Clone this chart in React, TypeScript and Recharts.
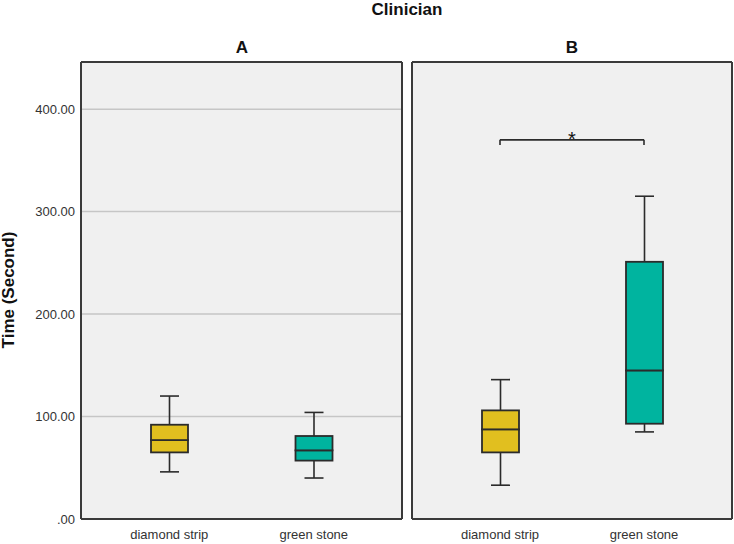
import React from "react"
import {
  ComposedChart,
  Bar,
  XAxis,
  YAxis,
  CartesianGrid,
  ReferenceLine,
} from "recharts"

// box plot summaries (seconds)
const categories = ["diamond strip", "green stone"]
const boxColors = ["#E1BF1F", "#00B49F"]

const minA = [46, 40]
const q1A = [65, 57]
const medianA = [77, 67]
const q3A = [92, 81]
const maxA = [120, 104]

const minB = [33, 85]
const q1B = [65, 93]
const medianB = [87.5, 145]
const q3B = [106, 251]
const maxB = [136, 315]

const yTicks = [0, 100, 200, 300, 400]
const yMax = 446
const bracketY = 370
const bracketDrop = 5

const font = "'Liberation Sans', Arial, sans-serif"
const frame = "#3a3a3a"
const ink = "#2b2b2b"

function buildRows(min: number[], q1: number[], med: number[], q3: number[], max: number[]) {
  return categories.map((name, i) => ({
    name,
    base: min[i],
    lowWhisker: q1[i] - min[i],
    lowBox: med[i] - q1[i],
    highBox: q3[i] - med[i],
    highWhisker: max[i] - q3[i],
  }))
}

const rowsA = buildRows(minA, q1A, medianA, q3A, maxA)
const rowsB = buildRows(minB, q1B, medianB, q3B, maxB)

const Empty = () => <g />

const LowWhisker = (p: any) => {
  const cx = p.x + p.width / 2
  const bottom = p.y + p.height
  return (
    <g stroke={ink} strokeWidth={1.6}>
      <line x1={cx} x2={cx} y1={p.y} y2={bottom} />
      <line x1={cx - 9.5} x2={cx + 9.5} y1={bottom} y2={bottom} />
    </g>
  )
}

const HighWhisker = (p: any) => {
  const cx = p.x + p.width / 2
  return (
    <g stroke={ink} strokeWidth={1.6}>
      <line x1={cx} x2={cx} y1={p.y} y2={p.y + p.height} />
      <line x1={cx - 9.5} x2={cx + 9.5} y1={p.y} y2={p.y} />
    </g>
  )
}

const BoxPart = (p: any) => (
  <rect
    x={p.x}
    y={p.y}
    width={p.width}
    height={p.height}
    fill={boxColors[p.index % boxColors.length]}
    stroke={ink}
    strokeWidth={1.8}
  />
)

const StarLabel = (props: any) => {
  const vb = props.viewBox || {}
  const cx = vb.x + (vb.width || 0) / 2
  return (
    <text x={cx} y={vb.y + 6} textAnchor="middle" fontSize={20} fontFamily={font} fill="#111">
      *
    </text>
  )
}

// frame around the plot area, taken from the chart's own offset
const edgesY = ({ offset }: any) => [offset.top, offset.top + offset.height]
const edgesX = ({ offset }: any) => [offset.left, offset.left + offset.width]

function Panel({
  rows,
  width,
  marginLeft,
  marginRight,
  showTicks,
  bracket,
}: {
  rows: any[]
  width: number
  marginLeft: number
  marginRight: number
  showTicks: boolean
  bracket?: boolean
}) {
  return (
    <ComposedChart
      width={width}
      height={544}
      data={rows}
      margin={{ top: 62, right: marginRight, bottom: 0, left: marginLeft }}
      barSize={37}
    >
      <CartesianGrid
        vertical={false}
        stroke="#C6C6C6"
        strokeWidth={1.5}
        fill="#F0F0F0"
        fillOpacity={1}
      />
      <CartesianGrid
        stroke={frame}
        strokeWidth={2}
        horizontalCoordinatesGenerator={edgesY}
        verticalCoordinatesGenerator={edgesX}
      />
      <XAxis
        dataKey="name"
        height={25}
        padding={{ left: 16, right: 16 }}
        axisLine={{ stroke: frame, strokeWidth: 2 }}
        tickLine={false}
        tickSize={0}
        tickMargin={11}
        tick={{ fontSize: 13, fill: "#333", fontFamily: font }}
        interval={0}
      />
      <YAxis
        type="number"
        domain={[0, yMax]}
        ticks={yTicks}
        allowDataOverflow
        width={showTicks ? 81 : 0}
        axisLine={{ stroke: frame, strokeWidth: 2 }}
        tickLine={false}
        tickSize={0}
        tickMargin={6}
        tick={showTicks ? { fontSize: 13, fill: "#333", fontFamily: font } : false}
        tickFormatter={(v: number) => (v === 0 ? ".00" : v.toFixed(2))}
      />
      <Bar dataKey="base" stackId="box" shape={<Empty />} isAnimationActive={false} />
      <Bar dataKey="lowWhisker" stackId="box" shape={<LowWhisker />} isAnimationActive={false} />
      <Bar dataKey="lowBox" stackId="box" shape={<BoxPart />} isAnimationActive={false} />
      <Bar dataKey="highBox" stackId="box" shape={<BoxPart />} isAnimationActive={false} />
      <Bar dataKey="highWhisker" stackId="box" shape={<HighWhisker />} isAnimationActive={false} />
      {bracket && (
        <ReferenceLine
          segment={[
            { x: categories[0], y: bracketY },
            { x: categories[1], y: bracketY },
          ]}
          stroke={ink}
          strokeWidth={1.6}
          label={<StarLabel />}
        />
      )}
      {bracket && (
        <ReferenceLine
          segment={[
            { x: categories[0], y: bracketY },
            { x: categories[0], y: bracketY - bracketDrop },
          ]}
          stroke={ink}
          strokeWidth={1.6}
        />
      )}
      {bracket && (
        <ReferenceLine
          segment={[
            { x: categories[1], y: bracketY },
            { x: categories[1], y: bracketY - bracketDrop },
          ]}
          stroke={ink}
          strokeWidth={1.6}
        />
      )}
    </ComposedChart>
  )
}

const titleStyle: React.CSSProperties = {
  position: "absolute",
  fontFamily: font,
  fontWeight: "bold",
  fontSize: 17,
  color: "#111",
  lineHeight: "20px",
  textAlign: "center",
  whiteSpace: "nowrap",
}

export default function App() {
  return (
    <div
      style={{
        position: "absolute",
        left: 0,
        top: 0,
        width: 734,
        height: 544,
        background: "#fff",
        overflow: "hidden",
      }}
    >
      <div style={{ ...titleStyle, left: 307, top: 0, width: 200 }}>Clinician</div>
      <div style={{ ...titleStyle, left: 192, top: 38, width: 100 }}>A</div>
      <div style={{ ...titleStyle, left: 522, top: 38, width: 100 }}>B</div>
      <div
        style={{
          ...titleStyle,
          left: 9 - 100,
          top: 290 - 10,
          width: 200,
          transform: "rotate(-90deg)",
        }}
      >
        Time (Second)
      </div>
      <div style={{ position: "absolute", left: 0, top: 0 }}>
        <Panel rows={rowsA} width={406} marginLeft={0} marginRight={4} showTicks />
      </div>
      <div style={{ position: "absolute", left: 406, top: 0 }}>
        <Panel rows={rowsB} width={328} marginLeft={6} marginRight={2} showTicks={false} bracket />
      </div>
    </div>
  )
}
